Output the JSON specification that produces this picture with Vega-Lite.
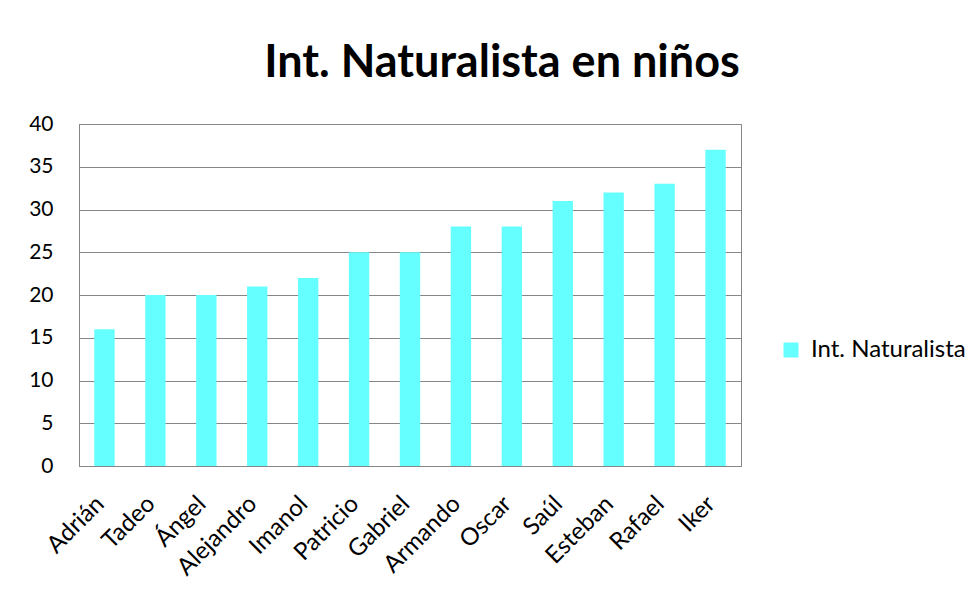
{
  "$schema": "https://vega.github.io/schema/vega-lite/v6.json",
  "autosize": "none",
  "width": 662,
  "height": 342,
  "padding": {"left": 79, "top": 124, "right": 239, "bottom": 130},
  "background": "white",
  "title": {
    "text": "Int. Naturalista en niños",
    "anchor": "middle",
    "frame": "group",
    "dx": 92,
    "font": "Lato",
    "fontSize": 45,
    "fontWeight": "bold",
    "color": "#000000",
    "offset": 27
  },
  "data": {
    "values": [
      {"nombre": "Adrián", "valor": 16, "serie": "Int. Naturalista"},
      {"nombre": "Tadeo", "valor": 20, "serie": "Int. Naturalista"},
      {"nombre": "Ángel", "valor": 20, "serie": "Int. Naturalista"},
      {"nombre": "Alejandro", "valor": 21, "serie": "Int. Naturalista"},
      {"nombre": "Imanol", "valor": 22, "serie": "Int. Naturalista"},
      {"nombre": "Patricio", "valor": 25, "serie": "Int. Naturalista"},
      {"nombre": "Gabriel", "valor": 25, "serie": "Int. Naturalista"},
      {"nombre": "Armando", "valor": 28, "serie": "Int. Naturalista"},
      {"nombre": "Oscar", "valor": 28, "serie": "Int. Naturalista"},
      {"nombre": "Saúl", "valor": 31, "serie": "Int. Naturalista"},
      {"nombre": "Esteban", "valor": 32, "serie": "Int. Naturalista"},
      {"nombre": "Rafael", "valor": 33, "serie": "Int. Naturalista"},
      {"nombre": "Iker", "valor": 37, "serie": "Int. Naturalista"}
    ]
  },
  "mark": {"type": "bar"},
  "encoding": {
    "x": {
      "field": "nombre",
      "type": "nominal",
      "sort": null,
      "scale": {"paddingInner": 0.6, "paddingOuter": 0.3},
      "axis": {
        "title": null,
        "labelAngle": -45,
        "labelAlign": "right",
        "labelBaseline": "middle",
        "labelFont": "Lato",
        "labelFontSize": 24,
        "labelColor": "#000000",
        "labelPadding": 34,
        "labelOffset": -4,
        "labelBound": false,
        "labelOverlap": false,
        "ticks": false,
        "domainColor": "#868686",
        "domainWidth": 1
      }
    },
    "y": {
      "field": "valor",
      "type": "quantitative",
      "scale": {"domain": [0, 40]},
      "axis": {
        "title": null,
        "values": [0, 5, 10, 15, 20, 25, 30, 35, 40],
        "labelFont": "Lato",
        "labelFontSize": 21,
        "labelColor": "#000000",
        "labelPadding": 26,
        "ticks": false,
        "domain": true,
        "domainColor": "#868686",
        "gridColor": "#868686",
        "gridWidth": 1
      }
    },
    "color": {
      "field": "serie",
      "type": "nominal",
      "scale": {"range": ["#66FFFF"]},
      "legend": {
        "title": null,
        "orient": "none",
        "legendX": 700,
        "legendY": 214,
        "padding": 0,
        "symbolType": "square",
        "symbolSize": 225,
        "symbolStrokeWidth": 0,
        "labelFont": "Lato",
        "labelFontSize": 24,
        "labelColor": "#000000",
        "labelOffset": 8
      }
    }
  },
  "config": {
    "view": {"stroke": "#868686", "strokeWidth": 1}
  }
}
